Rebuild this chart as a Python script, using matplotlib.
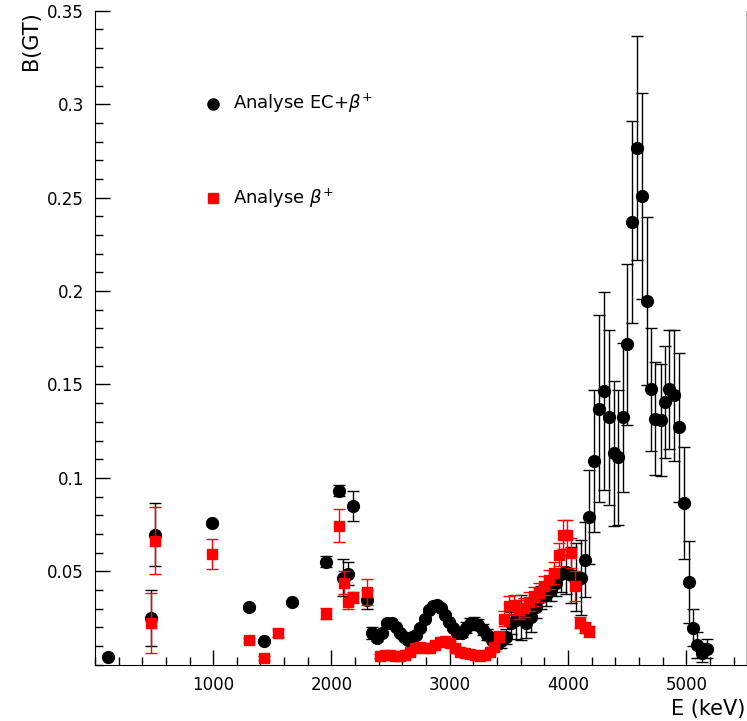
import matplotlib
matplotlib.use('Agg')
import matplotlib.pyplot as plt
from matplotlib.ticker import MultipleLocator, FixedLocator
import numpy as np

# Analyse EC+beta+ (black circles)
E_ec = [109, 473, 510, 990, 1305, 1429, 1664, 1950, 2067, 2101, 2143, 2185, 2302,
        2344, 2387, 2429, 2471, 2513, 2546, 2580, 2614, 2647, 2681, 2714, 2748, 2790,
        2823, 2857, 2891, 2924, 2958, 2991, 3025, 3059, 3101, 3134, 3168, 3202, 3235,
        3277, 3311, 3353, 3395, 3437, 3479, 3521, 3563, 3605, 3647, 3689, 3731, 3773,
        3815, 3857, 3899, 3941, 3983, 4025, 4067, 4109, 4143, 4176, 4218, 4260, 4302,
        4344, 4386, 4420, 4462, 4496, 4538, 4580, 4622, 4664, 4697, 4739, 4782, 4823,
        4857, 4899, 4941, 4983, 5025, 5059, 5092, 5134, 5176]
B_ec = [0.0043, 0.025, 0.0697, 0.076, 0.031, 0.0129, 0.0337, 0.0552, 0.0932, 0.0466, 0.0488, 0.0852, 0.0348,
        0.017, 0.0145, 0.017, 0.0225, 0.0225, 0.020, 0.017, 0.0146, 0.0134, 0.0146, 0.016, 0.0198, 0.0247,
        0.0295, 0.0316, 0.0321, 0.0305, 0.0268, 0.0231, 0.0198, 0.0171, 0.0171, 0.0198, 0.022, 0.0225, 0.0214,
        0.0188, 0.016, 0.0134, 0.0123, 0.0129, 0.015, 0.0225, 0.024, 0.0252, 0.0225, 0.0257, 0.031, 0.036,
        0.0375, 0.040, 0.044, 0.0488, 0.0498, 0.0482, 0.047, 0.0466, 0.0563, 0.079, 0.1088, 0.137, 0.1463,
        0.1324, 0.1131, 0.111, 0.1324, 0.1715, 0.2369, 0.2765, 0.2508, 0.1945, 0.1474, 0.1318, 0.1308, 0.1404,
        0.1474, 0.1442, 0.127, 0.0868, 0.0445, 0.0198, 0.0107, 0.0064, 0.0086]
err_ec = [0.0, 0.015, 0.017, 0.001, 0.001, 0.001, 0.001, 0.003, 0.003, 0.01, 0.006, 0.008, 0.005,
          0.003, 0.002, 0.001, 0.001, 0.001, 0.001, 0.001, 0.001, 0.001, 0.001, 0.001, 0.001, 0.001,
          0.001, 0.001, 0.001, 0.001, 0.001, 0.001, 0.001, 0.002, 0.002, 0.003, 0.003, 0.003, 0.003,
          0.003, 0.003, 0.004, 0.004, 0.004, 0.004, 0.006, 0.01, 0.012, 0.008, 0.008, 0.006, 0.006,
          0.006, 0.006, 0.007, 0.01, 0.012, 0.015, 0.018, 0.02, 0.02, 0.025, 0.038, 0.05, 0.053,
          0.047, 0.039, 0.036, 0.04, 0.043, 0.054, 0.06, 0.055, 0.045, 0.033, 0.03, 0.03, 0.03,
          0.032, 0.035, 0.04, 0.03, 0.022, 0.01, 0.007, 0.005, 0.005]

# Analyse beta+ (red squares)
E_bp = [473, 510, 990, 1305, 1429, 1546, 1950, 2067, 2109, 2143, 2185, 2302,
        2412, 2454, 2496, 2538, 2580, 2622, 2664, 2706, 2748, 2790, 2832, 2874, 2916,
        2958, 3000, 3042, 3084, 3126, 3168, 3210, 3252, 3294, 3336, 3378, 3420, 3462,
        3504, 3546, 3588, 3630, 3672, 3714, 3756, 3798, 3840, 3882, 3924, 3958, 3991,
        4025, 4059, 4101, 4143, 4176]
B_bp = [0.0225, 0.0665, 0.0595, 0.0134, 0.0037, 0.0171, 0.0273, 0.0745, 0.044, 0.0338, 0.036, 0.039,
        0.0045, 0.0054, 0.0054, 0.0048, 0.0048, 0.0054, 0.007, 0.009, 0.0096, 0.009, 0.009, 0.0107, 0.0123,
        0.0129, 0.0118, 0.009, 0.007, 0.0064, 0.0059, 0.0054, 0.0048, 0.0054, 0.007, 0.0096, 0.015, 0.0247,
        0.0316, 0.0321, 0.0295, 0.0305, 0.0338, 0.0366, 0.0386, 0.0423, 0.0455, 0.049, 0.059, 0.0697, 0.0697,
        0.060, 0.0423, 0.0225, 0.0198, 0.018]
err_bp = [0.016, 0.018, 0.008, 0.001, 0.001, 0.002, 0.003, 0.009, 0.006, 0.004, 0.003, 0.007,
          0.001, 0.001, 0.001, 0.001, 0.001, 0.001, 0.001, 0.001, 0.001, 0.001, 0.001, 0.001, 0.001,
          0.001, 0.001, 0.001, 0.001, 0.001, 0.001, 0.001, 0.001, 0.001, 0.001, 0.002, 0.003, 0.004,
          0.005, 0.005, 0.005, 0.005, 0.005, 0.005, 0.005, 0.005, 0.005, 0.006, 0.006, 0.008, 0.008,
          0.008, 0.008, 0.003, 0.003, 0.003]

x_ticks = [1000, 2000, 3000, 4000, 5000]
y_ticks = [0.05, 0.1, 0.15, 0.2, 0.25, 0.3, 0.35]
y_labels = ['0.05', '0.1', '0.15', '0.2', '0.25', '0.3', '0.35']

plt.rcParams['font.family'] = ['DejaVu Sans']

fig = plt.figure(figsize=(7.47, 7.21), dpi=100)
ax = fig.add_axes([0.127, 0.078, 0.871, 0.907])

ax.errorbar(E_ec, B_ec, yerr=err_ec, fmt='o', color='black', ms=8.5, ecolor='black',
            elinewidth=1, capsize=4, capthick=1, zorder=2)
ax.errorbar(E_bp, B_bp, yerr=err_bp, fmt='s', color='red', ms=7.5, ecolor='red',
            elinewidth=1, capsize=4, capthick=1, zorder=3)

ax.set_xlim(0, 5500)
ax.set_ylim(0, 0.35)
ax.xaxis.set_major_locator(FixedLocator(x_ticks))
ax.xaxis.set_minor_locator(MultipleLocator(200))
ax.yaxis.set_major_locator(FixedLocator(y_ticks))
ax.set_yticklabels(y_labels)
ax.yaxis.set_minor_locator(MultipleLocator(0.01))
ax.tick_params(which='both', direction='in', top=False, right=False, labelsize=12, pad=8)
ax.tick_params(which='major', length=11, width=1)
ax.tick_params(which='minor', length=6, width=1)
ax.spines['top'].set_visible(False)
ax.spines['right'].set_color('#bbbbbb')

ax.set_xlabel('E (keV)', fontsize=15, loc='right')
ax.set_ylabel('B(GT)', fontsize=15, loc='top')

# legend drawn as plain markers + text, like the ROOT original
ax.plot([0.181], [0.858], 'o', color='black', ms=8, transform=ax.transAxes)
ax.text(0.212, 0.858, r'Analyse EC+$\beta^{+}$', fontsize=13, va='center', transform=ax.transAxes)
ax.plot([0.181], [0.713], 's', color='red', ms=7, transform=ax.transAxes)
ax.text(0.212, 0.713, r'Analyse $\beta^{+}$', fontsize=13, va='center', transform=ax.transAxes)

fig.savefig('out.png', dpi=100)
